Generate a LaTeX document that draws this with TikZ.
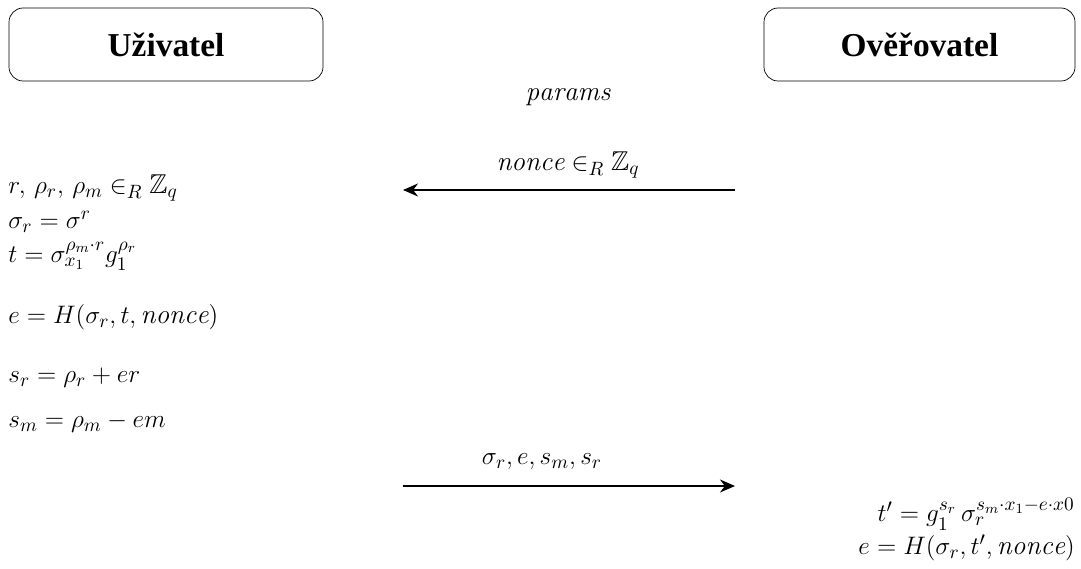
\documentclass[tikz,border=0pt]{standalone}
\usepackage{fontspec}
\usepackage{amsmath,amssymb}
\usetikzlibrary{arrows.meta,positioning}
\newfontfamily\partyfont{Liberation Serif}

\begin{document}
\begin{tikzpicture}[
  party/.style={draw,rounded corners=8pt,minimum height=1.46cm,font=\partyfont\fontsize{19}{21}\selectfont\bfseries},
  lhs/.style={anchor=west,inner sep=0pt,font=\fontsize{15.5}{18}\selectfont},
  rhs/.style={anchor=east,inner sep=0pt,font=\fontsize{15.5}{18}\selectfont},
  msg/.style={inner sep=0pt,font=\fontsize{15.5}{18}\selectfont},
  arrow/.style={-{Stealth[length=3mm,width=2.6mm]},thick}
]
\useasboundingbox (0,0) rectangle (21.62,-11.38);
\node[party,minimum width=6.28cm] (user) at (3.32,-0.89) {Uživatel};
\node[party,minimum width=6.22cm] (verif) at (18.39,-0.89) {Ověřovatel};
\node[msg] (params) at (11.36,-1.94) {$\mathit{params}$};
% challenge from the verifier
\coordinate (n0) at (14.70,-3.80);
\coordinate (n1) at (8.06,-3.80);
\draw[arrow] (n0)--(n1);
\node[msg] (nonce) at (11.36,-3.30) {$\mathit{nonce} \in_R \mathbb{Z}_q$};
% user side
\node[lhs] (l1) at (0.16,-3.76) {$r,\, \rho_r,\, \rho_m \in_R \mathbb{Z}_q$};
\node[lhs] (l2) at (0.16,-4.44) {$\sigma_r = \sigma^r$};
\node[lhs] (l3) at (0.16,-5.12) {$t = \sigma_{x_1}^{\rho_m\cdot r} g_1^{\rho_r}$};
\node[lhs] (l4) at (0.16,-6.34) {$e = H(\sigma_r, t, \mathit{nonce})$};
\node[lhs] (l5) at (0.16,-7.56) {$s_r = \rho_r + er$};
\node[lhs] (l6) at (0.16,-8.46) {$s_m = \rho_m - em$};
% response to the verifier
\coordinate (m0) at (8.06,-9.72);
\coordinate (m1) at (14.70,-9.72);
\draw[arrow] (m0)--(m1);
\node[msg] (resp) at (10.84,-9.24) {$\sigma_r, e, s_m, s_r$};
% verifier side
\node[rhs] (r1) at (21.50,-10.28) {$t' = g_1^{s_r}\, \sigma_r^{s_m\cdot x_1 - e\cdot x0}$};
\node[rhs] (r2) at (21.50,-10.96) {$e = H(\sigma_r, t', \mathit{nonce})$};
\end{tikzpicture}
\end{document}
